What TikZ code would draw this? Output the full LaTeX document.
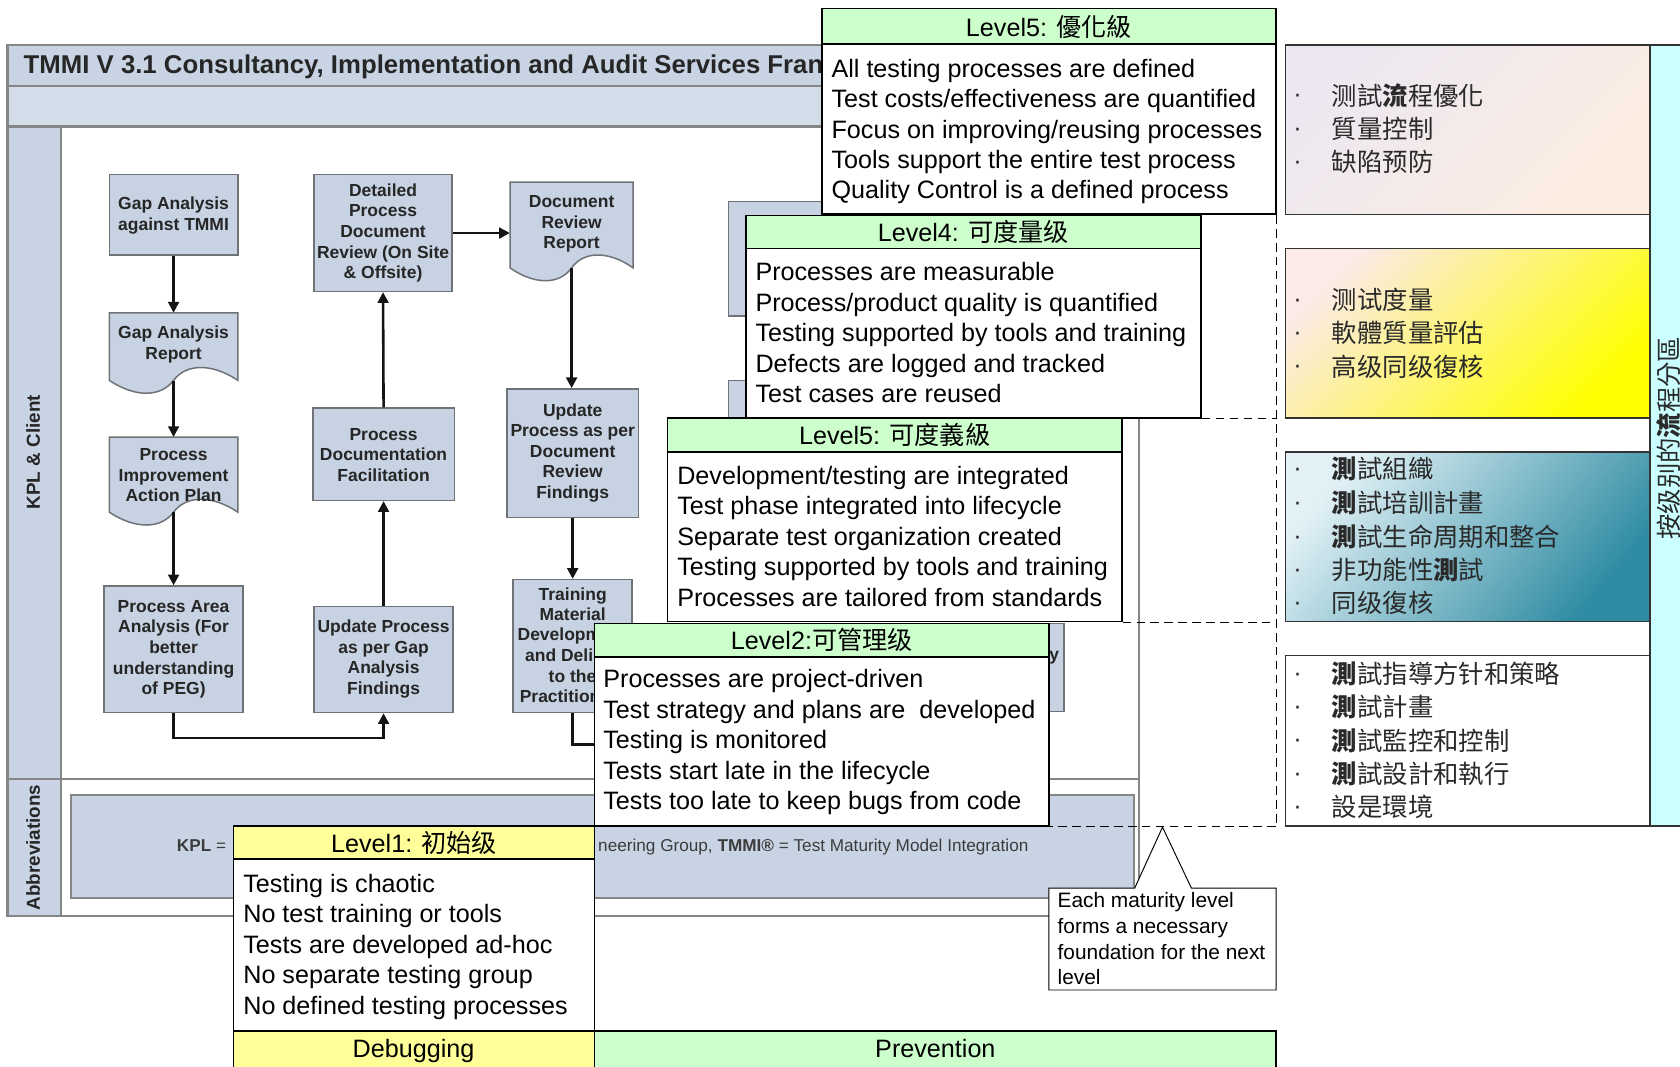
\documentclass[tikz,border=0pt]{standalone}
\usepackage{fontspec}
\setmainfont{Liberation Sans}
\newfontfamily\cjk{Noto Sans CJK TC}
\usetikzlibrary{fit,arrows.meta,calc}
\definecolor{bandA}{HTML}{C8D4E4}
\definecolor{bandB}{HTML}{D3DDE9}
\definecolor{framegray}{HTML}{868686}
\definecolor{fbgray}{HTML}{6F7378}
\definecolor{fbfill}{HTML}{C7D3E3}
\definecolor{fbtext}{HTML}{262626}
\definecolor{abbrtext}{HTML}{3C3C3C}
\definecolor{arrcol}{HTML}{141414}
\definecolor{lgreen}{HTML}{CCFFCC}
\definecolor{lyellow}{HTML}{FFFF99}
\definecolor{lcyan}{HTML}{CCFFFF}
\definecolor{panetext}{HTML}{2A2A2A}
\definecolor{paneA1}{HTML}{ECE7F1}
\definecolor{paneA2}{HTML}{FCEDE1}
\definecolor{paneB1}{HTML}{FBEAE6}
\definecolor{paneB2}{HTML}{FFFF55}
\definecolor{paneB3}{HTML}{FFFF00}
\definecolor{paneC1}{HTML}{E2F1F6}
\definecolor{paneC2}{HTML}{A9D3DF}
\definecolor{paneC3}{HTML}{2E8BA2}
\newcommand\tmLevel{\fontsize{33.4pt}{40.4pt}\selectfont}
\newcommand\tmFlow{\fontsize{23.2pt}{27.3pt}\selectfont\bfseries}
\newcommand\tmTitle{\fontsize{34.2pt}{36pt}\selectfont\bfseries}
\newcommand\tmNote{\fontsize{27.7pt}{34.1pt}\selectfont}
\newcommand\tmPane{\cjk\fontsize{33.7pt}{44pt}\selectfont}
\newcommand\tmAbbr{\fontsize{22.8pt}{26pt}\selectfont}
\newcommand\tmSide{\fontsize{25pt}{28pt}\selectfont\bfseries}
\newcommand\tmDot{\fontsize{33.7pt}{40pt}\selectfont}
\begin{document}
\begin{tikzpicture}[x=0.5mm,y=-0.5mm,
  frameline/.style={draw=framegray,line width=1mm},
  fbox/.style={draw=fbgray,fill=fbfill,line width=0.7mm,inner sep=0pt},
  docbox/.style={draw=fbgray,fill=fbfill,line width=0.7mm},
  ftext/.style={font=\tmFlow,text=fbtext,align=center,inner sep=0pt},
  fline/.style={font=\tmFlow,text=fbtext,inner sep=0pt},
  arr/.style={draw=arrcol,line width=1.2mm,-{Triangle[length=5mm,width=5mm]}},
  plainline/.style={draw=arrcol,line width=1.2mm},
  lvlhead/.style={draw=black,fill=lgreen,line width=0.75mm,inner sep=0pt},
  headtxt/.style={anchor=base,inner sep=0pt,font=\tmLevel},
  lvlbody/.style={draw=black,fill=white,line width=0.75mm,inner sep=0pt},
  lvltxt/.style={anchor=base west,inner sep=0pt,font=\tmLevel},
  dashline/.style={draw=black,line width=0.55mm,dash pattern=on 4mm off 2.5mm},
  panebox/.style={draw=black!80,line width=0.7mm,inner sep=0pt},
  paneitem/.style={anchor=base west,inner sep=0pt,font=\tmPane,text=panetext},
  panedot/.style={anchor=base,inner sep=0pt,font=\tmDot,text=panetext}]
\useasboundingbox (0,0) rectangle (1568,995);
\fill[white] (0,0) rectangle (1568,995);

% ---------- background TMMI frame ----------
\draw[frameline,fill=white] (7,42) rectangle (1063,855);
\draw[frameline,fill=bandA] (7,42) rectangle (1063,80);
\draw[frameline,fill=bandB] (7,80) rectangle (1063,118);
\draw[frameline,fill=bandA] (7,118) rectangle (57,855);
\draw[frameline] (7,727) -- (1063,727);
\draw[frameline,fill=bandA] (66,742) rectangle (1058,838);
\begin{scope}
\clip (0,0) rectangle (767,120);
\node[anchor=base west,font=\tmTitle,text=fbtext,inner sep=0pt] (title) at (22,69)
  {TMMI V 3.1 Consultancy, Implementation and Audit Services Fran};
\end{scope}
\node[rotate=90,font=\tmSide,text=fbtext,inner sep=0pt] (kpl) at (31,422) {KPL \& Client};
\node[rotate=90,font=\tmSide,text=fbtext,inner sep=0pt] (abbr) at (31,791) {Abbreviations};
\node[anchor=base west,font=\tmAbbr,text=abbrtext,inner sep=0pt] (abbrA) at (165,795) {\textbf{KPL} =};
\node[anchor=base east,font=\tmAbbr,text=abbrtext,inner sep=0pt] (abbrB) at (960,795)
  {neering Group, \textbf{TMMI®} = Test Maturity Model Integration};

% ---------- flowchart ----------
\node[fbox,fit={(102,163)(222,238)}] (gat) {};
\node[ftext] (gatt) at (162,201) {Gap Analysis\\against TMMI};
\draw[docbox] (102,292) -- (222,292) -- (222,355) .. controls (198,339) and (174,339) .. (162,355)
  .. controls (150,371) and (126,371) .. (102,355) -- cycle;
\node[inner sep=0pt,fit={(102,292)(222,355)}] (gar) {};
\node[ftext] (gart) at (162,321.5) {Gap Analysis\\Report};
\draw[docbox] (102,408) -- (222,408) -- (222,478) .. controls (198,462) and (174,462) .. (162,478)
  .. controls (150,494) and (126,494) .. (102,478) -- cycle;
\node[inner sep=0pt,fit={(102,408)(222,478)}] (piap) {};
\node[ftext] (piapt) at (162,443.5) {Process\\Improvement\\Action Plan};
\node[fbox,fit={(97,547)(227,665)}] (paa) {};
\node[ftext] (paat) at (162,606) {Process Area\\Analysis (For\\better\\understanding\\of PEG)};

\node[fbox,fit={(293,163)(422,272)}] (dpd) {};
\node[ftext] (dpdt) at (357.5,217.5) {Detailed\\Process\\Document\\Review (On Site\\\& Offsite)};
\node[fbox,fit={(292,381)(424,467)}] (pdf) {};
\node[ftext] (pdft) at (358,424.5) {Process\\Documentation\\Facilitation};
\node[fbox,fit={(293,566)(423,665)}] (upg) {};
\node[ftext] (upgt) at (358,615) {Update Process\\as per Gap\\Analysis\\Findings};

\draw[docbox] (476,170) -- (591,170) -- (591,250) .. controls (568,234) and (545,234) .. (533.5,250)
  .. controls (522,266) and (499,266) .. (476,250) -- cycle;
\node[inner sep=0pt,fit={(476,170)(591,250)}] (drr) {};
\node[ftext] (drrt) at (533.5,209) {Document\\Review\\Report};
\node[fbox,fit={(473,363)(596,483)}] (upd) {};
\node[ftext] (updt) at (534.5,422.5) {Update\\Process as per\\Document\\Review\\Findings};
\node[fbox,fit={(479,541)(590,665)}] (tmd) {};
\node[fline,anchor=base] (tmdA) at (534.5,560) {Training};
\node[fline,anchor=base] (tmdB) at (534.5,579) {Material};
\begin{scope}
\clip (470,583) rectangle (555,670);
\node[fline,anchor=base west] (tmdC) at (483,598) {Developm};
\node[fline,anchor=base west] (tmdD) at (490,617) {and Deli};
\node[fline,anchor=base west] (tmdE) at (512,637) {to the};
\node[fline,anchor=base west] (tmdF) at (485,656) {Practition};
\end{scope}

% column 4 (mostly hidden)
\node[fbox,fit={(680,188)(800,295)}] (cfa) {};
\node[fbox,fit={(680,355)(800,470)}] (cfb) {};
\node[fbox,fit={(880,582)(993,664)}] (cfc) {};
\node[fline] (cfct) at (984,614) {y};

% connectors
\draw[arr] (gat.south) -- (gar.north);
\draw[arr] (gar.south) -- (piap.north);
\draw[arr] (piap.south) -- (paa.north);
\draw[arr] (paa.south) -- ++(0,23) -| (upg.south);
\draw[arr] (upg.north) -- (pdf.south);
\draw[arr] (pdf.north) -- (dpd.south);
\draw[arr] (dpd.east) -- (dpd.east -| drr.west);
\draw[arr] (drr.south) -- (drr.south |- upd.north);
\draw[arr] (upd.south) -- (upd.south |- tmd.north);
\coordinate (tend) at (620,695);
\draw[plainline] (tmd.south) |- (tend);

% ---------- maturity levels ----------
\node[lvlhead,fit={(767,8)(1191,41)}] (hfive) {};
\node[headtxt] (hfivet) at (979,34) {Level5: {\cjk 優化級}};
\node[lvlbody,fit={(767,41)(1191,200)}] (bfive) {};
\foreach \t [count=\i] in {All testing processes are defined,Test costs/effectiveness are quantified,Focus on improving/reusing processes,Tools support the entire test process,Quality Control is a defined process}
  \node[lvltxt] (tfive-\i) at (776,{72+28.4*(\i-1)}) {\t};

\node[lvlhead,fit={(696,201)(1121,232)}] (hfour) {};
\node[headtxt] (hfourt) at (908.5,225.5) {Level4: {\cjk 可度量级}};
\node[lvlbody,fit={(696,232)(1121,390)}] (bfour) {};
\foreach \t [count=\i] in {Processes are measurable,Process/product quality is quantified,Testing supported by tools and training,Defects are logged and tracked,Test cases are reused}
  \node[lvltxt] (tfour-\i) at (705,{262+28.4*(\i-1)}) {\t};

\node[lvlhead,fit={(623,390)(1047,422)}] (hthree) {};
\node[headtxt] (hthreet) at (835,415) {Level5: {\cjk 可度義級}};
\node[lvlbody,fit={(623,422)(1047,580)}] (bthree) {};
\foreach \t [count=\i] in {Development/testing are integrated,Test phase integrated into lifecycle,Separate test organization created,Testing supported by tools and training,Processes are tailored from standards}
  \node[lvltxt] (tthree-\i) at (632,{452+28.4*(\i-1)}) {\t};

\node[lvlhead,fit={(555,582)(979,613)}] (htwo) {};
\node[headtxt] (htwot) at (767,606.5) {Level2:{\cjk 可管理级}};
\node[lvlbody,fit={(555,613)(979,771)}] (btwo) {};
\foreach \t [count=\i] in {Processes are project-driven,Test strategy and plans are\ \ developed,Testing is monitored,Tests start late in the lifecycle,Tests too late to keep bugs from code}
  \node[lvltxt] (ttwo-\i) at (563,{642+28.4*(\i-1)}) {\t};

\node[lvlhead,fill=lyellow,fit={(218,771)(555,802)}] (hone) {};
\node[headtxt] (honet) at (386.5,796) {Level1: {\cjk 初始级}};
\node[lvlbody,fit={(218,802)(555,962)}] (bone) {};
\foreach \t [count=\i] in {Testing is chaotic,No test training or tools,Tests are developed ad-hoc,No separate testing group,No defined testing processes}
  \node[lvltxt] (tone-\i) at (227,{833+28.4*(\i-1)}) {\t};

\node[lvlhead,fill=lyellow,fit={(218,962)(555,1000)}] (debug) {};
\node[headtxt] (debugt) at (386,987) {Debugging};
\node[lvlhead,fit={(555,962)(1191,1000)}] (prev) {};
\node[headtxt] (prevt) at (873,987) {Prevention};

% dashed staircase
\draw[dashline] (bfive.south east) -- (bfive.south east |- btwo.south east) -- (btwo.south east);
\draw[dashline] (bfour.south east) -- (bfour.south east -| bfive.east);
\draw[dashline] (bthree.south east) -- (bthree.south east -| bfive.east);

% callout
\draw[fill=white,draw=black,line width=0.45mm] (979,829) -- (1059,829) -- (1085,772) -- (1112,829)
  -- (1191,829) -- (1191,924) -- (979,924) -- cycle;
\node[anchor=north west,align=left,inner sep=0pt,font=\tmNote] (note) at (987,833)
  {Each maturity level\\forms a necessary\\foundation for the next\\level};

% ---------- right pane ----------
\node[panebox,fit={(1540,42)(1600,771)},fill=lcyan] (side) {};
\node[rotate=90,inner sep=0pt,font=\tmPane,text=panetext] (sidet) at (1557,409) {按级别的\textbf{流}程分區};
\node[panebox,fit={(1200,42)(1540,200)},top color=paneA1,bottom color=paneA2,shading angle=45] (pA) {};
\node[panebox,fit={(1200,232)(1540,390)},top color=paneB1,middle color=paneB2,bottom color=paneB3,shading angle=45] (pB) {};
\node[panebox,fit={(1200,422)(1540,580)},top color=paneC1,middle color=paneC2,bottom color=paneC3,shading angle=50] (pC) {};
\node[panebox,fit={(1200,612)(1540,771)},fill=white] (pD) {};

\foreach \y [count=\i] in {89,120,151,280,311,342,438,469,501,532,563,629,660,691,722,753}
  \node[panedot] (dot\i) at (1211,{\y+7}) {·};

\foreach \t/\y [count=\i] in {测試\textbf{流}程優化/89,質量控制/120,缺陷预防/151}
  \node[paneitem] (pa\i) at (1243,{\y+9}) {\t};
\foreach \t/\y [count=\i] in {测试度量/280,軟體質量評估/311,高级同级復核/342}
  \node[paneitem] (pb\i) at (1243,{\y+9}) {\t};
\foreach \t/\y [count=\i] in {\textbf{測}試組織/438,\textbf{測}試培訓計畫/469,\textbf{測}試生命周期和整合/501,非功能性\textbf{測}試/532,同级復核/563}
  \node[paneitem] (pc\i) at (1243,{\y+9}) {\t};
\foreach \t/\y [count=\i] in {\textbf{測}試指導方针和策略/629,\textbf{測}試計畫/660,\textbf{測}試監控和控制/691,\textbf{測}試設計和執行/722,設是環境/753}
  \node[paneitem] (pd\i) at (1243,{\y+9}) {\t};
\end{tikzpicture}
\end{document}
